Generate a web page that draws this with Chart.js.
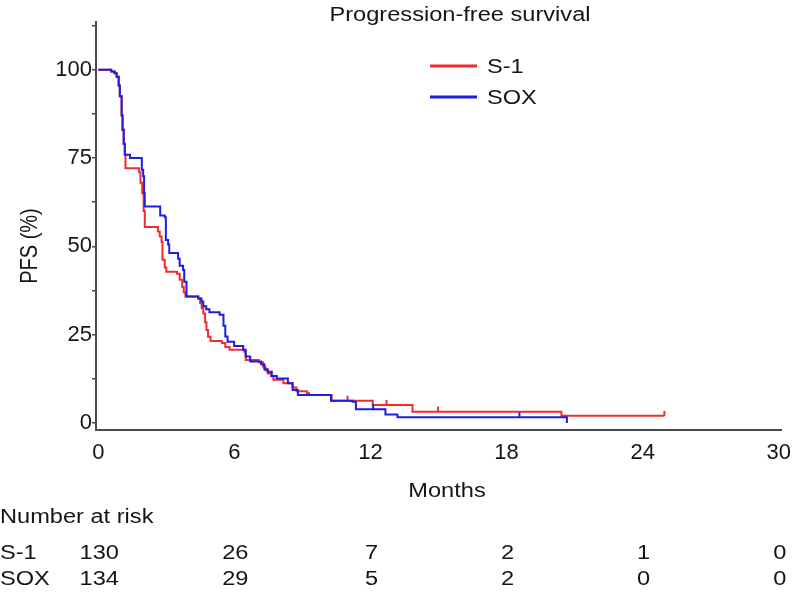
<!DOCTYPE html>
<html>
<head>
<meta charset="utf-8">
<script src="https://cdn.jsdelivr.net/npm/chart.js@4.4.1/dist/chart.umd.min.js"></script>
<style>
  html, body { margin: 0; padding: 0; background: #ffffff; }
  #wrap { width: 794px; height: 597px; position: relative; }
</style>
</head>
<body>
<div id="wrap"><canvas id="c" width="794" height="597"></canvas></div>
<script>
// ---------- DATA ----------
const chartTitle = 'Progression-free survival';
const xAxisTitle = 'Months';
const yAxisTitle = 'PFS (%)';
const seriesNames = ['S-1', 'SOX'];

// S-1 Kaplan-Meier steps (months, PFS %)
const s1Times = [0, 0.57, 0.72, 0.81, 0.9, 0.95, 1.03, 1.07, 1.12, 1.17, 1.2, 1.8, 1.86, 1.94, 2.0, 2.05,
  2.63, 2.71, 2.79, 2.83, 2.93, 3.0, 3.47, 3.59, 3.7, 3.77, 3.84, 4.41, 4.49, 4.56, 4.63, 4.71, 4.77, 4.84,
  4.95, 5.45, 5.6, 5.79, 6.43, 6.5, 7.08, 7.26, 7.37, 7.47, 7.62, 7.72, 8.16, 8.56, 8.74, 9.2, 9.3, 10.29,
  12.1, 13.85, 20.42, 24.96];
const s1Values = [100, 99.5, 99, 98, 95.5, 92.5, 87, 83, 79, 76, 72.1, 71, 68, 65, 60, 55.5,
  54.2, 52.8, 51.2, 46.2, 44, 42.8, 42.2, 40.5, 38.5, 37, 35.8, 35.2, 33.9, 32.5, 31, 28.5, 26.3, 24.4,
  23.2, 22.6, 21.5, 20.7, 20.2, 17.8, 17.2, 16.0, 14.9, 14.0, 13.2, 12.2, 11.2, 10.0, 9.0, 8.4, 7.9, 6.3,
  5.1, 3.2, 2.0, 2.0];
const s1CensorTimes = [10.99, 12.71, 14.98, 24.96];
const s1CensorValues = [6.3, 5.1, 3.2, 2.0];

// SOX Kaplan-Meier steps (months, PFS %)
const soxTimes = [0, 0.57, 0.72, 0.81, 0.9, 0.95, 1.03, 1.07, 1.12, 1.17, 1.4, 1.92, 1.98, 2.02, 2.05,
  2.73, 2.93, 2.98, 3.08, 3.13, 3.52, 3.59, 3.74, 3.79, 3.89, 4.41, 4.55, 4.63, 4.76, 4.9, 5.35, 5.52,
  5.6, 5.7, 5.99, 6.39, 6.5, 6.7, 7.18, 7.32, 7.47, 7.65, 7.87, 8.36, 8.57, 8.8, 10.26, 11.21, 11.36,
  12.66, 13.19, 20.66];
const soxValues = [100, 99.5, 99, 98, 95.5, 92.5, 87, 83, 79, 75.9, 75.0, 71.7, 69.8, 65, 61.3,
  58.7, 58.2, 51.8, 50.5, 48.1, 46.5, 44.5, 43.3, 40, 35.8, 35.2, 34.4, 33, 32.2, 31.3, 30.6, 27.5,
  24.5, 23.0, 21.8, 20.7, 18.8, 17.4, 16.6, 15.2, 14.5, 13.3, 12.6, 11.2, 9.3, 7.9, 6.3, 6.0, 3.9,
  2.4, 1.6, 0];
const soxCensorTimes = [12.12, 18.57];
const soxCensorValues = [3.9, 1.6];

// axis ticks
const xTickValues = [0, 6, 12, 18, 24, 30];
const yTickValues = [0, 12.5, 25, 37.5, 50, 62.5, 75, 87.5, 100, 112.5];
const yLabelValues = [0, 25, 50, 75, 100];

// number at risk table
const riskTitle = 'Number at risk';
const riskTimes = [0, 6, 12, 18, 24, 30];
const riskS1 = [130, 26, 7, 2, 1, 0];
const riskSOX = [134, 29, 5, 2, 0, 0];

// ---------- STYLE ----------
const FAMILY = "'Liberation Sans', Arial, Helvetica, sans-serif";
const FS_TICK = 22;
const FS_TEXT = 20;
const SX = 1.18;          // horizontal stretch of the reference's lettering
const TXT = '#151515';
const AXIS = '#4a4a4a';
const RED = 'rgb(240,45,45)';
const BLUE = 'rgb(30,30,225)';

const toXY = (ts, vs) => ts.map((t, i) => ({ x: t, y: vs[i] }));

function wideText(ctx, text, x, y, align) {
  ctx.save();
  ctx.translate(x, y);
  ctx.scale(SX, 1);
  ctx.textAlign = align;
  ctx.fillText(text, 0, 0);
  ctx.restore();
}

const extras = {
  id: 'extras',
  afterDraw(chart) {
    const { ctx, scales: { x } } = chart;
    ctx.save();
    ctx.fillStyle = TXT;
    ctx.font = `${FS_TEXT}px ${FAMILY}`;
    ctx.textBaseline = 'middle';
    // title
    wideText(ctx, chartTitle, 460, 15, 'center');
    // axis titles
    wideText(ctx, xAxisTitle, 447, 491, 'center');
    ctx.save();
    ctx.translate(30, 246);
    ctx.rotate(-Math.PI / 2);
    ctx.scale(1, SX);
    ctx.textAlign = 'center';
    ctx.fillText(yAxisTitle, 0, 0);
    ctx.restore();
    // legend
    const legendColors = [RED, BLUE];
    seriesNames.forEach((name, i) => {
      const y = 66 + i * 31;
      ctx.strokeStyle = legendColors[i];
      ctx.lineWidth = 3;
      ctx.beginPath();
      ctx.moveTo(430, y);
      ctx.lineTo(477, y);
      ctx.stroke();
      wideText(ctx, name, 487, y + 1, 'left');
    });
    // risk table
    wideText(ctx, riskTitle, 0, 517, 'left');
    const rows = [riskS1, riskSOX];
    rows.forEach((row, r) => {
      const y = 553 + r * 26;
      wideText(ctx, seriesNames[r], 0, y, 'left');
      row.forEach((v, i) => {
        wideText(ctx, String(v), x.getPixelForValue(riskTimes[i]) + 1, y, 'center');
      });
    });
    ctx.restore();
  }
};

new Chart(document.getElementById('c'), {
  type: 'line',
  data: {
    datasets: [
      { label: seriesNames[0], data: toXY(s1Times, s1Values), borderColor: RED, borderWidth: 2,
        stepped: true, pointRadius: 0, fill: false, order: 2 },
      { label: seriesNames[1], data: toXY(soxTimes, soxValues), borderColor: BLUE, borderWidth: 2,
        stepped: true, pointRadius: 0, fill: false, order: 1 },
      { label: 'S-1 censored', data: toXY(s1CensorTimes, s1CensorValues), showLine: false,
        pointStyle: 'dash', rotation: 270, pointRadius: 5, pointBorderWidth: 2,
        pointBorderColor: RED, borderColor: RED, order: 2 },
      { label: 'SOX censored', data: toXY(soxCensorTimes, soxCensorValues), showLine: false,
        pointStyle: 'dash', rotation: 270, pointRadius: 5, pointBorderWidth: 2,
        pointBorderColor: BLUE, borderColor: BLUE, order: 1 }
    ]
  },
  options: {
    responsive: false,
    animation: false,
    events: [],
    layout: { padding: { top: 22, right: 13, bottom: 92, left: 0 } },
    plugins: { legend: { display: false }, title: { display: false }, tooltip: { enabled: false } },
    scales: {
      x: {
        type: 'linear', min: -0.1, max: 30.1,
        afterBuildTicks: s => { s.ticks = xTickValues.map(v => ({ value: v })); },
        afterFit: s => { s.height = 75; s.paddingLeft = 0; s.paddingRight = 0; },
        border: { display: true, color: AXIS, width: 2 },
        grid: { display: false, drawTicks: false },
        ticks: { padding: 10, color: TXT, font: { family: FAMILY, size: FS_TICK }, maxRotation: 0, autoSkip: false },
        title: { display: false }
      },
      y: {
        type: 'linear', min: -2, max: 113.5,
        afterBuildTicks: s => { s.ticks = yTickValues.map(v => ({ value: v })); },
        afterFit: s => { s.width = 96; },
        border: { display: true, color: AXIS, width: 2 },
        grid: { drawOnChartArea: false, drawTicks: true, tickLength: 4, color: AXIS, lineWidth: 1.5 },
        ticks: { padding: 0, color: TXT, font: { family: FAMILY, size: FS_TICK }, autoSkip: false,
                 callback: v => yLabelValues.includes(v) ? String(v) : '' },
        title: { display: false }
      }
    }
  },
  plugins: [extras]
});
</script>
</body>
</html>
